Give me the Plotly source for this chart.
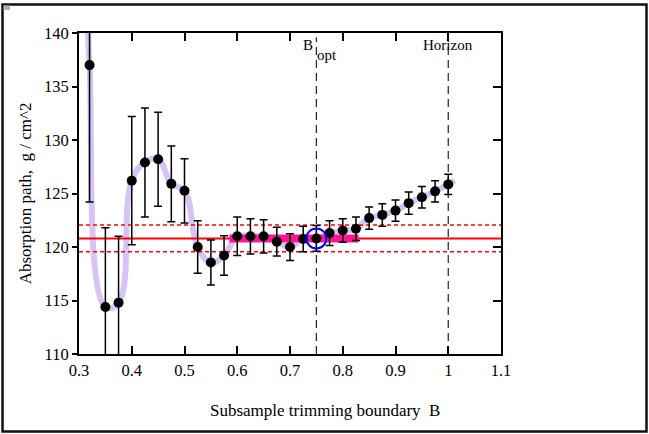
import plotly.graph_objects as go

# Subsample trimming boundary B and the absorption path estimate at each B
B = [0.32, 0.35, 0.375, 0.4, 0.425, 0.45, 0.475, 0.5, 0.525, 0.55, 0.575,
     0.6, 0.625, 0.65, 0.675, 0.7, 0.725, 0.75, 0.775, 0.8, 0.825,
     0.85, 0.875, 0.9, 0.925, 0.95, 0.975, 1.0]
path = [137.0, 114.4, 114.8, 126.2, 127.9, 128.2, 125.9, 125.25, 120.0, 118.55, 119.2,
        121.0, 121.0, 121.0, 120.5, 120.0, 120.75, 120.8, 121.3, 121.55, 121.7,
        122.7, 123.0, 123.4, 124.1, 124.65, 125.2, 125.85]
err = [12.8, 7.4, 6.2, 6.0, 5.1, 4.4, 3.55, 3.0, 2.45, 2.1, 1.85,
       1.8, 1.65, 1.55, 1.35, 1.25, 1.2, 1.2, 1.15, 1.1, 1.1,
       1.05, 1.05, 1.0, 1.05, 1.0, 1.0, 0.95]

# Smoothed trend: end knots beyond the measured range
trend_start = (0.316, 141.5)
trend_end = (1.012, 126.2)

# Plateau estimate and its band
plateau = 120.8
band_hi = 122.05
band_lo = 119.55
plateau_from = 0.585
plateau_to = 0.83

B_opt = 0.75
horizon = 1.0

x_ticks = [0.3, 0.4, 0.5, 0.6, 0.7, 0.8, 0.9, 1.0, 1.1]
x_tick_text = ["0.3", "0.4", "0.5", "0.6", "0.7", "0.8", "0.9", "1", "1.1"]
y_ticks = [110, 115, 120, 125, 130, 135, 140]

X_RANGE = [0.3, 1.1]
Y_RANGE = [110, 140]
FONT = "Liberation Serif"

W, H = 649, 434
L, R, T, BM = 79, 148, 33, 80
pw, ph = W - L - R, H - T - BM
px = lambda v: (v - L) / pw
py = lambda v: (H - BM - v) / ph

fig = go.Figure()

# smooth lavender trend
fig.add_trace(go.Scatter(
    x=[trend_start[0]] + B + [trend_end[0]],
    y=[trend_start[1]] + path + [trend_end[1]],
    mode="lines", line=dict(color="#d6c4f6", width=6, shape="spline", smoothing=1.2),
    hoverinfo="skip", showlegend=False, cliponaxis=True))

# plateau level and band
fig.add_trace(go.Scatter(x=X_RANGE, y=[plateau, plateau], mode="lines",
                         line=dict(color="#ff0000", width=2), showlegend=False))
for lvl in (band_hi, band_lo):
    fig.add_trace(go.Scatter(x=X_RANGE, y=[lvl, lvl], mode="lines",
                             line=dict(color="#ff0000", width=1.5, dash="4px,3px"),
                             showlegend=False))

# stable region
fig.add_trace(go.Scatter(x=[plateau_from, plateau_to], y=[plateau, plateau], mode="lines",
                         line=dict(color="#ff1493", width=8), showlegend=False))

# reference verticals
for xv in (B_opt, horizon):
    fig.add_trace(go.Scatter(x=[xv, xv], y=[Y_RANGE[0], Y_RANGE[1] - 0.4], mode="lines",
                             line=dict(color="#222222", width=1.2, dash="8px,5px"),
                             showlegend=False))

# measurements with error bars
fig.add_trace(go.Scatter(
    x=B, y=path, mode="markers",
    marker=dict(color="black", size=10),
    error_y=dict(type="data", array=err, visible=True, color="black",
                 thickness=1.5, width=4),
    showlegend=False, cliponaxis=True))

# selected optimum
i_opt = B.index(B_opt)
fig.add_trace(go.Scatter(x=[B_opt], y=[path[i_opt]], mode="markers",
                         marker=dict(symbol="circle-open", size=20, color="#0000ff",
                                     line=dict(color="#0000ff", width=2)),
                         showlegend=False))

# helper trace so the mirrored frame axes render
fig.add_trace(go.Scatter(x=[X_RANGE[0]], y=[Y_RANGE[0]], xaxis="x2", yaxis="y2",
                         mode="markers", marker=dict(opacity=0), hoverinfo="skip",
                         showlegend=False))

axis_common = dict(showgrid=False, zeroline=False, showline=True,
                   linecolor="black", linewidth=2, tickcolor="black", tickwidth=1.5)

fig.update_layout(
    width=W, height=H,
    margin=dict(l=L, r=R, t=T, b=BM),
    paper_bgcolor="white", plot_bgcolor="white",
    font=dict(family=FONT, color="black", size=16),
    xaxis=dict(range=X_RANGE, tickvals=x_ticks, ticktext=x_tick_text,
               ticks="inside", ticklen=8,
               tickfont=dict(family=FONT, size=16.5),
               **axis_common),
    yaxis=dict(range=Y_RANGE, tickvals=y_ticks, ticks="outside", ticklen=5,
               tickfont=dict(family=FONT, size=16.5),
               title=dict(text="Absorption path,  g / cm^2",
                          font=dict(family=FONT, size=17), standoff=8),
               **axis_common),
    xaxis2=dict(range=X_RANGE, tickvals=x_ticks, overlaying="x", side="top",
                ticks="inside", ticklen=8, showticklabels=False, **axis_common),
    yaxis2=dict(range=Y_RANGE, tickvals=y_ticks, overlaying="y", side="right",
                ticks="inside", ticklen=8, showticklabels=False, **axis_common),
    annotations=[
        dict(x=B_opt, y=py(45), xref="x", yref="paper", text="B", showarrow=False,
             xanchor="right", yanchor="middle", xshift=-1, font=dict(family=FONT, size=15)),
        dict(x=B_opt, y=py(55), xref="x", yref="paper", text="opt", showarrow=False,
             xanchor="left", yanchor="middle", xshift=-1, font=dict(family=FONT, size=15)),
        dict(x=horizon, y=py(45), xref="x", yref="paper", text="Horizon", showarrow=False,
             xanchor="center", yanchor="middle", font=dict(family=FONT, size=15)),
        dict(x=px(W / 2), y=py(410), xref="paper", yref="paper",
             text="Subsample trimming boundary  B", showarrow=False,
             xanchor="center", yanchor="middle", font=dict(family=FONT, size=17)),
    ],
)

# outer frame of the figure
fig.add_shape(type="rect", xref="paper", yref="paper",
              x0=px(2.5), x1=px(646.5), y0=py(431.5), y1=py(4.5),
              line=dict(color="#111111", width=2.5), layer="above")
fig.add_shape(type="rect", xref="paper", yref="paper",
              x0=px(3.5), x1=px(10), y0=py(10), y1=py(5.5),
              line=dict(width=0), fillcolor="#b0b0b0", layer="above")

fig.write_html("out.html")
